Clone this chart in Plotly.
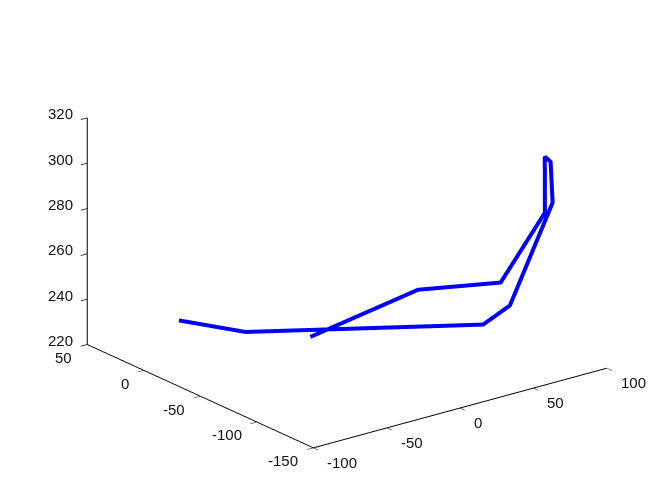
import plotly.graph_objects as go

x_vals = [-80.7, -63.0, 66.7, 74.8, 93.9, 88.9, 91.1, 91.9, 71.1, 29.1, -8.1]
y_vals = [-6.0, -42.0, -83.8, -97.0, -110.0, -114.7, -106.7, -105.8, -93.6, -75.1, -28.1]
z_vals = [240, 240, 230, 240, 285, 305, 305, 280, 250, 250, 225]

x_ticks = [-100, -50, 0, 50, 100]
y_ticks = [-150, -100, -50, 0, 50]
z_ticks = [220, 240, 260, 280, 300, 320]

font = dict(family="Liberation Sans", size=15, color="#111111")

def axis(rng, ticks):
    return dict(range=rng, tickvals=ticks, showticklabels=False, title=dict(text=""),
                showgrid=False, zeroline=False, showbackground=False, showspikes=False,
                showline=True, linecolor="black", linewidth=2, ticks="outside", ticklen=8,
                tickcolor="black", tickwidth=1.5, mirror=False)

def label(x, y, z, text, xanchor, xshift, yshift):
    return dict(x=x, y=y, z=z, text=text, showarrow=False, font=font, xanchor=xanchor,
                yanchor="middle", xshift=xshift, yshift=yshift)

labels = []
labels += [label(v, -150, 220, str(v), "left", 12, -14.5) for v in x_ticks]
labels += [label(-100, v, 220, str(v), "right", -13, -13) for v in y_ticks]
labels += [label(-100, 50, v, str(v), "right", -12, 4) for v in z_ticks]

fig = go.Figure(go.Scatter3d(x=x_vals, y=y_vals, z=z_vals, mode="lines",
                             line=dict(color="#0000ff", width=8), hoverinfo="skip"))
fig.update_layout(
    width=672, height=504, showlegend=False, paper_bgcolor="white",
    margin=dict(l=0, r=0, t=0, b=0),
    scene=dict(
        xaxis=axis([-100, 100], x_ticks), yaxis=axis([-150, 50], y_ticks), zaxis=axis([220, 320], z_ticks),
        aspectmode="manual", aspectratio=dict(x=1.47, y=1.47, z=0.961),
        camera=dict(projection=dict(type="orthographic"),
                    eye=dict(x=-1.1515, y=-1.4747, z=0.632),
                    center=dict(x=-0.0095, y=0.0073, z=-0.072), up=dict(x=0, y=0, z=1)),
        domain=dict(x=[0, 1], y=[0, 1]),
        annotations=labels,
    ),
)
fig.write_html("out.html")
